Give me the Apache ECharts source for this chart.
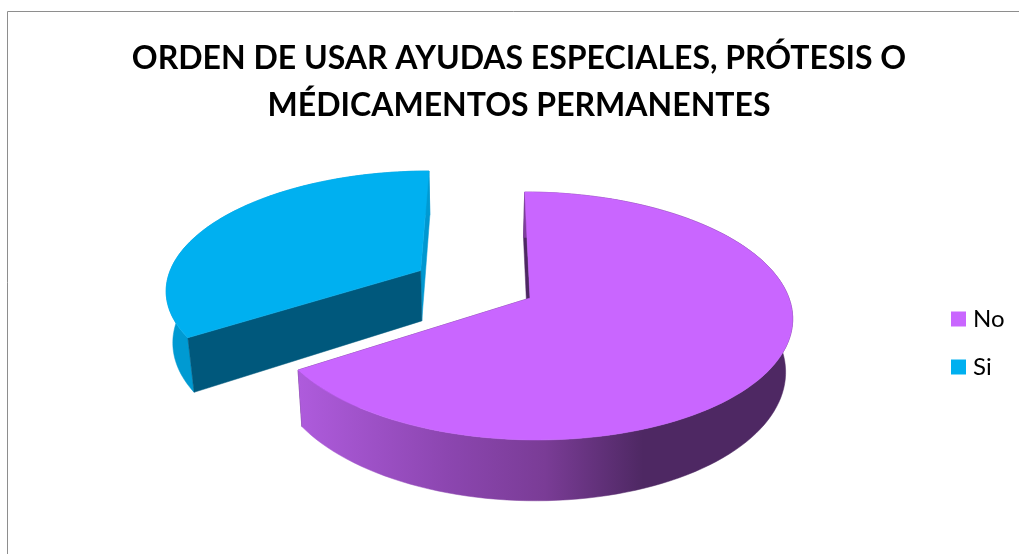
<!DOCTYPE html>
<html>
<head>
<meta charset="utf-8">
<style>html,body{margin:0;padding:0;background:#fff}#c{width:1019px;height:554px}</style>
<script src="https://cdn.jsdelivr.net/npm/echarts@6/dist/echarts.min.js"></script>
</head>
<body>
<div id="c"></div>
<script>
var titleText = 'ORDEN DE USAR AYUDAS ESPECIALES, PRÓTESIS O\nMÉDICAMENTOS PERMANENTES';
var categories = ['No', 'Si'];
var values = [65.8, 34.2];
var explosion = [0, 0.49];
var topColors = ['#C966FF', '#00B0F0'];

var total = values.reduce(function (a, b) { return a + b; }, 0);
var view = { ax: 530, ay: 298, A: 259, B: 121.4, k: 0.145, vx: 488, depth: 52, bx: 470, bf: 0.978 };

function project(X, Y) {
  var s = 1 / (1 + view.k * Y);
  return { x: view.vx + (view.ax - view.vx + view.A * X) * s, y: view.ay - view.B * Y * s, s: s };
}
function topPt(X, Y) { var p = project(X, Y); return [p.x, p.y]; }
function botPt(X, Y) {
  var p = project(X, Y);
  return [view.bx + (p.x - view.bx) * view.bf, p.y + view.depth * p.s];
}
function poly(points, fill) {
  return { type: 'polygon', shape: { points: points }, style: { fill: fill, stroke: fill, lineWidth: 0.5 } };
}
var sideGradient = { type: 'linear', x: 300, y: 0, x2: 790, y2: 0, global: true, colorStops: [
  { offset: 0, color: '#AE5BDC' }, { offset: 0.3, color: '#8C46B0' }, { offset: 0.5, color: '#7A3C96' },
  { offset: 0.7, color: '#4E2863' }, { offset: 1, color: '#4E2863' }] };
var sideFill = [sideGradient, '#009AD2'];
var startWall = ['#4E2863', '#00587C'];
var endWall = ['#4E2863', '#0097D0'];

function renderSlice(idx) {
  return function () {
    var before = 0;
    for (var i = 0; i < idx; i++) before += values[i];
    var a0 = before / total * 360, a1 = (before + values[idx]) / total * 360;
    var mid = (a0 + a1) / 2 * Math.PI / 180;
    var ox = explosion[idx] * Math.sin(mid), oy = explosion[idx] * Math.cos(mid);
    var topRim = [], botRim = [];
    for (var a = a0; a <= a1 + 0.001; a += (a1 - a0) / 120) {
      var t = a * Math.PI / 180, X = ox + Math.sin(t), Y = oy + Math.cos(t);
      topRim.push(topPt(X, Y));
      botRim.push(botPt(X, Y));
    }
    var apexT = topPt(ox, oy), apexB = botPt(ox, oy);
    var n = topRim.length - 1;
    var startQuad = poly([apexT, topRim[0], botRim[0], apexB], startWall[idx]);
    var endQuad = poly([apexT, topRim[n], botRim[n], apexB], endWall[idx]);
    var side = poly(topRim.concat(botRim.slice().reverse()), sideFill[idx]);
    var face = poly([apexT].concat(topRim), topColors[idx]);
    var walls = idx === 0 ? [endQuad, startQuad, side] : [endQuad, side, startQuad];
    return { type: 'group', children: walls.concat([face]) };
  };
}

var chart = echarts.init(document.getElementById('c'), null, { renderer: 'canvas' });
chart.setOption({
  animation: false,
  color: topColors,
  title: {
    text: titleText, left: 514, top: 30, textAlign: 'center',
    textStyle: { fontFamily: 'Lato', fontWeight: 'bold', fontSize: 32, lineHeight: 47, color: '#000' }
  },
  legend: {
    orient: 'vertical', left: 951, top: 307, padding: 0, itemWidth: 15, itemHeight: 15, itemGap: 24, itemStyle: { borderWidth: 0 }, selectedMode: false,
    icon: 'rect', data: categories,
    textStyle: { fontFamily: 'Lato', fontSize: 24, color: '#000', lineHeight: 24, padding: [0, 0, 0, 2] }
  },
  graphic: [{
    type: 'polyline', silent: true,
    shape: { points: [[7.5, 554], [7.5, 11.5], [1019, 11.5]] },
    style: { stroke: '#8E8E8E', fill: null, lineWidth: 1 }
  }],
  series: categories.map(function (name, i) {
    return {
      type: 'custom', name: name, coordinateSystem: 'none', silent: true,
      itemStyle: { color: topColors[i] },
      data: [[values[i]]], renderItem: renderSlice(i)
    };
  })
});
</script>
</body>
</html>
